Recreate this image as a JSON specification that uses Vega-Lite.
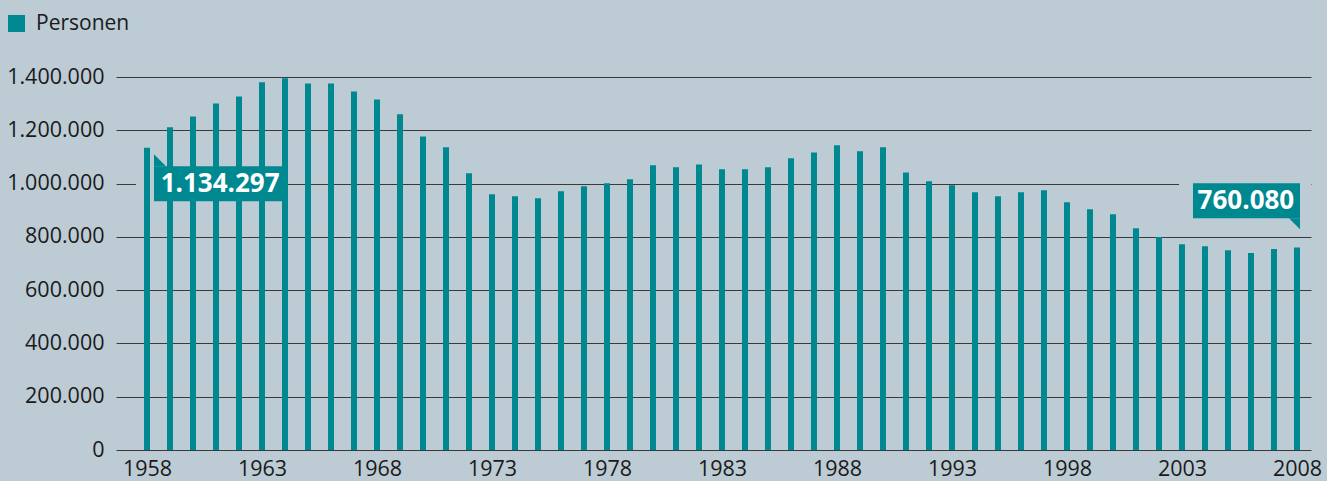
{
  "$schema": "https://vega.github.io/schema/vega-lite/v6.json",
  "width": 1195,
  "height": 373,
  "autosize": "none",
  "padding": {"left": 116, "top": 77, "right": 16, "bottom": 31},
  "background": "#bccbd4",
  "config": {
    "view": {"stroke": null},
    "locale": {"number": {"decimal": ",", "thousands": ".", "grouping": [3], "currency": ["", " €"]}},
    "axis": {"labelFont": "Open Sans", "labelFontSize": 21.5, "labelColor": "#1a1a1a"}
  },
  "datasets": {
    "bars": [
      {"year": 1958, "value": 1134297, "series": "Personen"},
      {"year": 1959, "value": 1211000, "series": "Personen"},
      {"year": 1960, "value": 1252000, "series": "Personen"},
      {"year": 1961, "value": 1301000, "series": "Personen"},
      {"year": 1962, "value": 1327000, "series": "Personen"},
      {"year": 1963, "value": 1380000, "series": "Personen"},
      {"year": 1964, "value": 1395000, "series": "Personen"},
      {"year": 1965, "value": 1376000, "series": "Personen"},
      {"year": 1966, "value": 1376000, "series": "Personen"},
      {"year": 1967, "value": 1346000, "series": "Personen"},
      {"year": 1968, "value": 1316000, "series": "Personen"},
      {"year": 1969, "value": 1260000, "series": "Personen"},
      {"year": 1970, "value": 1177000, "series": "Personen"},
      {"year": 1971, "value": 1136000, "series": "Personen"},
      {"year": 1972, "value": 1039000, "series": "Personen"},
      {"year": 1973, "value": 960000, "series": "Personen"},
      {"year": 1974, "value": 952000, "series": "Personen"},
      {"year": 1975, "value": 945000, "series": "Personen"},
      {"year": 1976, "value": 971000, "series": "Personen"},
      {"year": 1977, "value": 990000, "series": "Personen"},
      {"year": 1978, "value": 1001000, "series": "Personen"},
      {"year": 1979, "value": 1016000, "series": "Personen"},
      {"year": 1980, "value": 1069000, "series": "Personen"},
      {"year": 1981, "value": 1061000, "series": "Personen"},
      {"year": 1982, "value": 1072000, "series": "Personen"},
      {"year": 1983, "value": 1054000, "series": "Personen"},
      {"year": 1984, "value": 1054000, "series": "Personen"},
      {"year": 1985, "value": 1061000, "series": "Personen"},
      {"year": 1986, "value": 1095000, "series": "Personen"},
      {"year": 1987, "value": 1117000, "series": "Personen"},
      {"year": 1988, "value": 1144000, "series": "Personen"},
      {"year": 1989, "value": 1121000, "series": "Personen"},
      {"year": 1990, "value": 1136000, "series": "Personen"},
      {"year": 1991, "value": 1042000, "series": "Personen"},
      {"year": 1992, "value": 1009000, "series": "Personen"},
      {"year": 1993, "value": 994000, "series": "Personen"},
      {"year": 1994, "value": 967000, "series": "Personen"},
      {"year": 1995, "value": 952000, "series": "Personen"},
      {"year": 1996, "value": 967000, "series": "Personen"},
      {"year": 1997, "value": 975000, "series": "Personen"},
      {"year": 1998, "value": 930000, "series": "Personen"},
      {"year": 1999, "value": 904000, "series": "Personen"},
      {"year": 2000, "value": 885000, "series": "Personen"},
      {"year": 2001, "value": 832000, "series": "Personen"},
      {"year": 2002, "value": 799000, "series": "Personen"},
      {"year": 2003, "value": 772000, "series": "Personen"},
      {"year": 2004, "value": 765000, "series": "Personen"},
      {"year": 2005, "value": 750000, "series": "Personen"},
      {"year": 2006, "value": 739000, "series": "Personen"},
      {"year": 2007, "value": 754000, "series": "Personen"},
      {"year": 2008, "value": 760080, "series": "Personen"}
    ],
    "pads": [
      {"x1": 1957.52, "x2": 1958.31, "y1": 1008750, "y2": 993750},
      {"x1": 2002.87, "x2": 2008.61, "y1": 1008750, "y2": 993750}
    ],
    "boxes": [
      {"x1": 1958.304, "x2": 1963.913, "y1": 1065000, "y2": 933750},
      {"x1": 2003.478, "x2": 2008.13, "y1": 1001250, "y2": 870000}
    ],
    "tails": [
      {"x": 1958.565, "y": 1087500, "shape": "M-1,-1L-1,1L1,1Z", "s": 144},
      {"x": 2007.891, "y": 849375, "shape": "M-1,-1L1,-1L1,1Z", "s": 121}
    ],
    "labels": [
      {"x": 1961.18, "y": 999375, "text": "1.134.297"},
      {"x": 2005.78, "y": 933750, "text": "760.080"}
    ]
  },
  "layer": [
    {
      "data": {"name": "pads"},
      "mark": {"type": "rect", "fill": "#bccbd4"},
      "encoding": {
        "x": {"field": "x1", "type": "quantitative", "scale": {"domain": [1956.652, 2008.609], "nice": false, "zero": false, "padding": 0}},
        "x2": {"field": "x2"},
        "y": {"field": "y1", "type": "quantitative", "scale": {"domain": [0, 1400000], "nice": false, "padding": 0}},
        "y2": {"field": "y2"}
      }
    },
    {
      "data": {"name": "bars"},
      "mark": {"type": "bar", "width": 6},
      "encoding": {
        "x": {
          "field": "year", "type": "quantitative",
          "scale": {"domain": [1956.652, 2008.609], "nice": false, "zero": false, "padding": 0},
          "axis": {"values": [1958, 1963, 1968, 1973, 1978, 1983, 1988, 1993, 1998, 2003, 2008], "format": "d", "title": null, "grid": false, "ticks": false, "domain": false, "labelPadding": 8, "labelFlush": false}
        },
        "y": {
          "field": "value", "type": "quantitative",
          "scale": {"domain": [0, 1400000], "nice": false, "padding": 0},
          "axis": {"values": [0, 200000, 400000, 600000, 800000, 1000000, 1200000, 1400000], "format": ",d", "title": null, "grid": true, "gridColor": "#3a3a3a", "gridWidth": 1, "gridOpacity": 1, "ticks": false, "domain": false, "labelPadding": 12}
        },
        "color": {
          "field": "series", "type": "nominal",
          "scale": {"domain": ["Personen"], "range": ["#008891"]},
          "legend": {"orient": "none", "legendX": -110, "legendY": -64, "title": null, "symbolType": "square", "symbolSize": 289, "symbolStrokeWidth": 0, "symbolOpacity": 1, "labelFont": "Open Sans", "labelFontSize": 21, "labelColor": "#1a1a1a", "labelOffset": 9, "padding": 0}
        }
      }
    },
    {
      "data": {"name": "boxes"},
      "mark": {"type": "rect", "fill": "#008891"},
      "encoding": {
        "x": {"field": "x1", "type": "quantitative", "scale": {"domain": [1956.652, 2008.609], "nice": false, "zero": false, "padding": 0}},
        "x2": {"field": "x2"},
        "y": {"field": "y1", "type": "quantitative", "scale": {"domain": [0, 1400000], "nice": false, "padding": 0}},
        "y2": {"field": "y2"}
      }
    },
    {
      "data": {"name": "tails"},
      "mark": {"type": "point", "filled": true, "fill": "#008891", "opacity": 1, "strokeWidth": 0},
      "encoding": {
        "x": {"field": "x", "type": "quantitative", "scale": {"domain": [1956.652, 2008.609], "nice": false, "zero": false, "padding": 0}},
        "y": {"field": "y", "type": "quantitative", "scale": {"domain": [0, 1400000], "nice": false, "padding": 0}},
        "shape": {"field": "shape", "type": "nominal", "scale": null},
        "size": {"field": "s", "type": "quantitative", "scale": null}
      }
    },
    {
      "data": {"name": "labels"},
      "mark": {"type": "text", "font": "Open Sans", "fontWeight": "bold", "fontSize": 26, "color": "#ffffff", "align": "center", "baseline": "middle"},
      "encoding": {
        "x": {"field": "x", "type": "quantitative", "scale": {"domain": [1956.652, 2008.609], "nice": false, "zero": false, "padding": 0}},
        "y": {"field": "y", "type": "quantitative", "scale": {"domain": [0, 1400000], "nice": false, "padding": 0}},
        "text": {"field": "text", "type": "nominal"}
      }
    }
  ]
}
